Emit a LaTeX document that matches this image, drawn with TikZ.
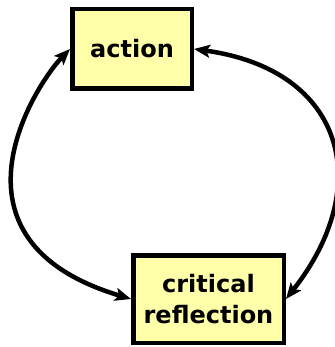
\documentclass[tikz,border=0pt]{standalone}
\usepackage{fontspec}
\setmainfont{DejaVu Sans}
\usetikzlibrary{arrows.meta}
\definecolor{boxfill}{RGB}{255,255,170}
\tikzset{
  box/.style={draw=black, fill=boxfill, line width=4.5pt, inner sep=0pt, font=\bfseries\fontsize{24}{31}\selectfont, align=center},
  link/.style={line width=4.5pt, {Stealth[length=16pt,width=13pt,inset=3.5pt]}-{Stealth[length=16pt,width=13pt,inset=3.5pt]}}
}
\begin{document}
\begin{tikzpicture}[x=1pt,y=-1pt]
\useasboundingbox (0,0) rectangle (334,347);
\node[box, minimum width=119.5pt, minimum height=79.5pt] (act) at (132,49) {action};
\node[box, minimum width=150.5pt, minimum height=87.5pt] (crit) at (208.5,299) {critical\\reflection};
\draw[link] (act.west) .. controls (36,84) and (-66,240) .. (crit.west);
\draw[link] (act.east) .. controls (345,70) and (375,186) .. (crit.east);
\end{tikzpicture}
\end{document}
